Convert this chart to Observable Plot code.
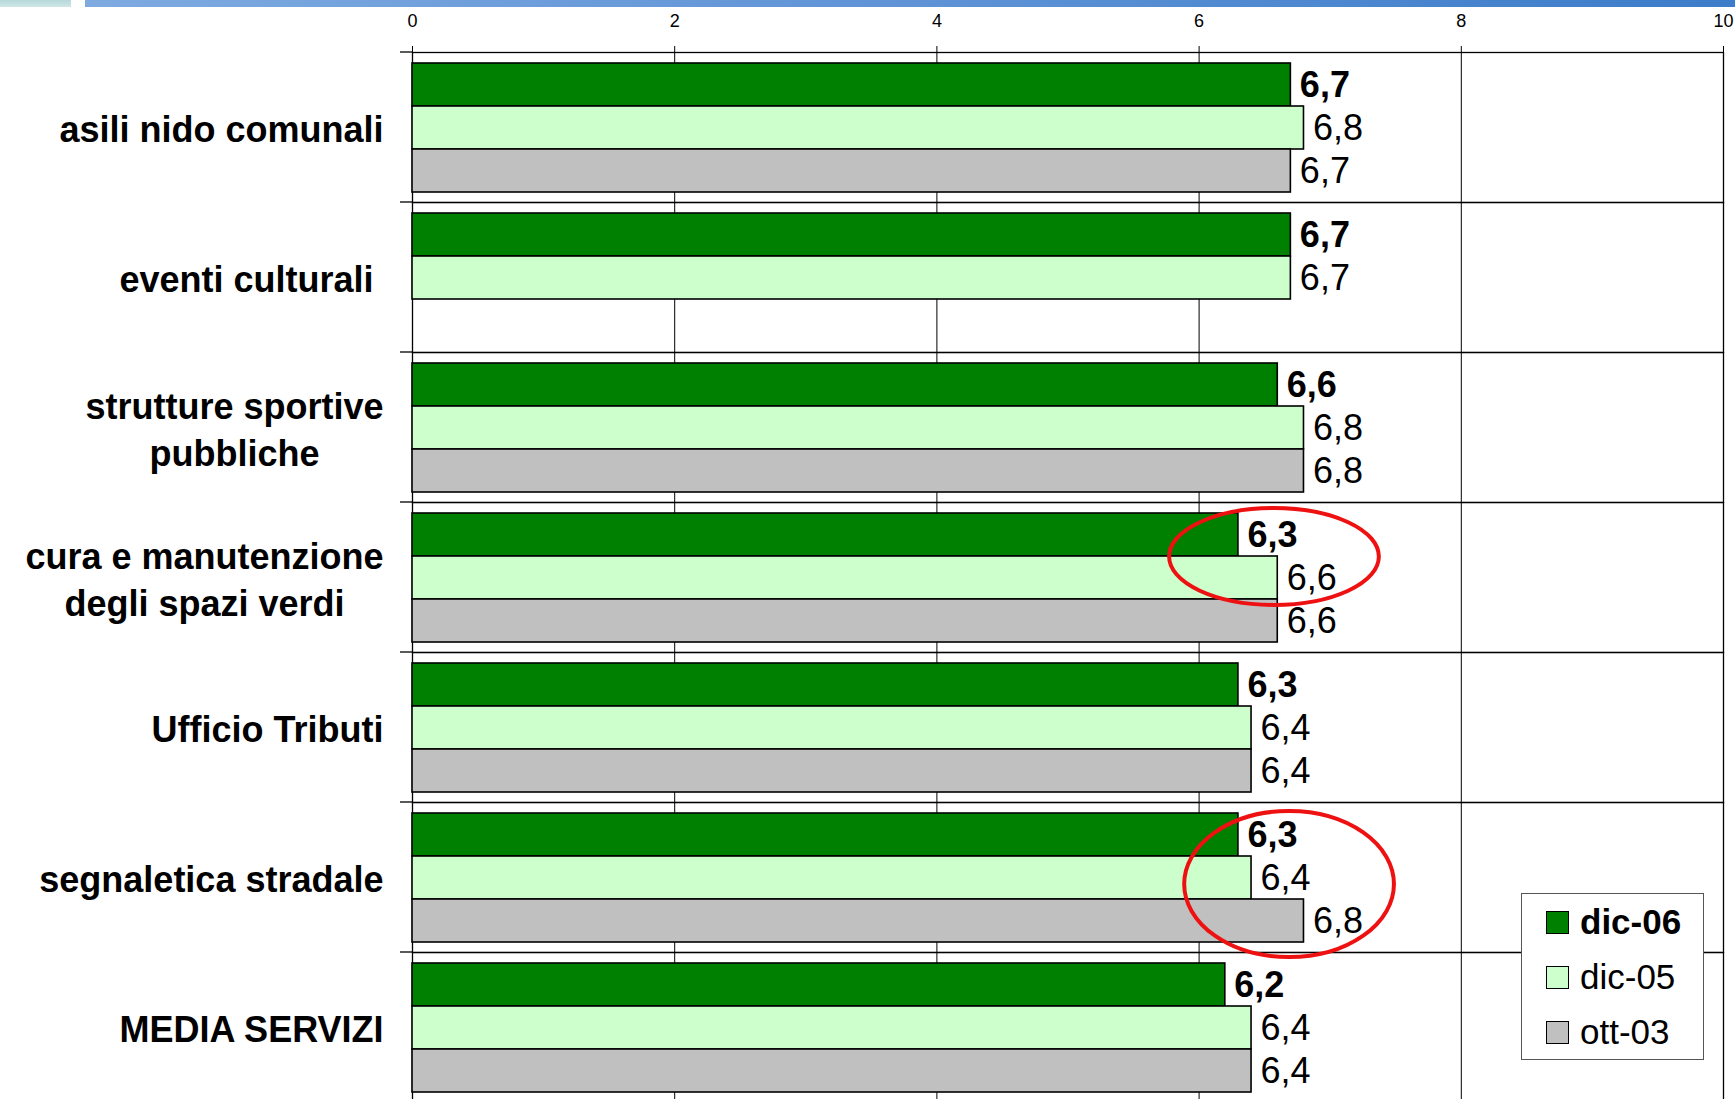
<!DOCTYPE html>
<html><head><meta charset="utf-8">
<script src="https://cdn.jsdelivr.net/npm/d3@7"></script>
<script src="https://cdn.jsdelivr.net/npm/@observablehq/plot@0.6"></script>
<style>
html,body{margin:0;padding:0;background:#fff;overflow:hidden;}
#wrap{position:relative;width:1735px;height:1099px;overflow:hidden;font-family:"Liberation Sans",Arial,sans-serif;}
#chart{position:absolute;left:0;top:0;}
#banner-left{position:absolute;left:0;top:0;width:71px;height:7px;background:linear-gradient(to bottom,#b7d8da,#cfe6e6);}
#banner{position:absolute;left:85px;top:0;width:1650px;height:7px;background:linear-gradient(to right,#7eaae0,#5f93d6 50%,#3c7cc9);}
#legend{position:absolute;left:1521px;top:893px;width:181px;height:165px;border:1px solid #555;background:#fff;}
.li{position:absolute;left:24px;height:40px;display:flex;align-items:center;font-size:35px;color:#000;}
.sw{width:21px;height:21px;border:1px solid #000;margin-right:11px;box-sizing:content-box;}
</style></head>
<body><div id="wrap"><div id="chart"></div><div id="banner-left"></div><div id="banner"></div><div id="legend"></div></div>
<script>
// ---- data ----
const categories = ["asili nido comunali", "eventi culturali", "strutture sportive pubbliche", "cura e manutenzione degli spazi verdi", "Ufficio Tributi", "segnaletica stradale", "MEDIA SERVIZI"];
const categoryLabels = ["asili nido comunali", "eventi culturali\u00a0", "strutture sportive\npubbliche", "cura e manutenzione\ndegli spazi verdi", "Ufficio Tributi", "segnaletica stradale", "MEDIA SERVIZI"];
const seriesNames = ["dic-06", "dic-05", "ott-03"];
const dic06 = [6.7, 6.7, 6.6, 6.3, 6.3, 6.3, 6.2];
const dic05 = [6.8, 6.7, 6.8, 6.6, 6.4, 6.4, 6.4];
const ott03 = [6.7, null, 6.8, 6.6, 6.4, 6.8, 6.4];
const xTicks = [0, 2, 4, 6, 8, 10];
const gridValues = [2, 4, 6, 8];
const seriesColors = ["#008000", "#CCFFCC", "#C0C0C0"];

const seriesValues = [dic06, dic05, ott03];
const rows = [];
categories.forEach((c, i) => {
  seriesValues.forEach((arr, j) => {
    if (arr[i] != null) rows.push({category: c, series: seriesNames[j], value: arr[i]});
  });
});
const labelOf = Object.fromEntries(categories.map((c, i) => [c, categoryLabels[i]]));
const fmt = v => v.toFixed(1).replace(".", ",");

// annotation ellipses (red circles in the original)
const annotations = [
  {category: "cura e manutenzione degli spazi verdi", x: 6.575, rx: 0.8, cy: 0.363, ry: 0.323},
  {category: "segnaletica stradale", x: 6.69, rx: 0.8, cy: 0.547, ry: 0.487}
];

const W = 1735, H = 1102, mL = 412, mR = 12, mT = 52, mB = 0;
const font = "'Liberation Sans', Arial, sans-serif";

const plot = Plot.plot({
  width: W, height: H,
  marginLeft: mL, marginRight: mR, marginTop: mT, marginBottom: mB,
  style: {fontFamily: font, fontSize: "18px", color: "#000", background: "transparent", overflow: "visible"},
  facet: {data: rows, y: "category"},
  fy: {domain: categories, padding: 0, axis: null, label: null},
  y: {domain: seriesNames, paddingInner: 0, paddingOuter: 0.244, axis: null, label: null},
  x: {domain: [0, 10], axis: "top", ticks: xTicks, tickSize: 7, tickPadding: 19, label: null, tickFormat: d => String(d)},
  color: {domain: seriesNames, range: seriesColors},
  marks: [
    Plot.ruleX(gridValues, {stroke: "#000", strokeWidth: 1}),
    Plot.frame({stroke: "#000", strokeWidth: 1.3}),
    Plot.barX(rows, {x: "value", y: "series", fill: "series", stroke: "#000", strokeWidth: 1.6}),
    Plot.text(rows, {filter: d => d.series === "dic-06", x: "value", y: "series", text: d => fmt(d.value),
      textAnchor: "start", dx: 9, fontWeight: "bold", fontSize: 36, fill: "#000"}),
    Plot.text(rows, {filter: d => d.series !== "dic-06", x: "value", y: "series", text: d => fmt(d.value),
      textAnchor: "start", dx: 9, fontWeight: "normal", fontSize: 36, fill: "#000"}),
    Plot.text(rows, {filter: d => d.series === "dic-06", text: d => labelOf[d.category],
      frameAnchor: "left", dx: -29, textAnchor: "end", fontWeight: "bold", fontSize: 36, lineHeight: 1.29,
      fill: "#000"})
  ]
});
document.getElementById("chart").append(plot);

// center multi-line category labels within their block (as in the original)
plot.querySelectorAll("text").forEach(t => {
  const spans = Array.from(t.querySelectorAll("tspan"));
  if (spans.length < 2) return;
  const maxW = d3.max(spans, s => s.getComputedTextLength());
  t.setAttribute("text-anchor", "middle");
  t.style.textAnchor = "middle";
  spans.forEach(s => {
    const cx = parseFloat(s.getAttribute("x") || t.getAttribute("x") || 0);
    s.setAttribute("x", cx - maxW / 2);
    s.setAttribute("text-anchor", "middle");
  });
});

const svg = d3.select(plot);
const xs = plot.scale("x"), fys = plot.scale("fy");
// small tick extensions at the left of the category boundaries
const bounds = categories.map(c => fys.apply(c)).concat([fys.apply(categories[categories.length - 1]) + fys.bandwidth]);
svg.append("g").selectAll("line").data(bounds).join("line")
  .attr("x1", xs.apply(0) - 12).attr("x2", xs.apply(0)).attr("y1", d => d).attr("y2", d => d)
  .attr("stroke", "#000").attr("stroke-width", 1.3);
// red annotation ellipses
svg.append("g").selectAll("ellipse").data(annotations).join("ellipse")
  .attr("cx", a => xs.apply(a.x))
  .attr("cy", a => fys.apply(a.category) + a.cy * fys.bandwidth)
  .attr("rx", a => xs.apply(a.x + a.rx) - xs.apply(a.x))
  .attr("ry", a => a.ry * fys.bandwidth)
  .attr("fill", "none").attr("stroke", "#ee1111").attr("stroke-width", 4);

// legend
const legend = document.getElementById("legend");
seriesNames.forEach((s, i) => {
  const item = document.createElement("div");
  item.className = "li";
  item.style.top = (8 + i * 55) + "px";
  item.style.fontWeight = i === 0 ? "bold" : "normal";
  const sw = document.createElement("div");
  sw.className = "sw";
  sw.style.background = seriesColors[i];
  item.append(sw, document.createTextNode(s));
  legend.append(item);
});
</script>
</body></html>
